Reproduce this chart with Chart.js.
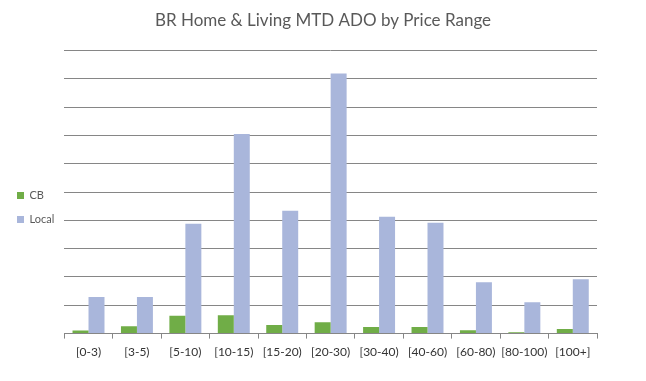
<!DOCTYPE html>
<html>
<head>
<meta charset="utf-8">
<script src="https://cdn.jsdelivr.net/npm/chart.js@4"></script>
<style>
  html, body { margin: 0; padding: 0; background: #fff; }
  #wrap { width: 646px; height: 381px; }
</style>
</head>
<body>
<div id="wrap"><canvas id="chart"></canvas></div>
<script>
const priceRanges = ['[0-3)', '[3-5)', '[5-10)', '[10-15)', '[15-20)', '[20-30)', '[30-40)', '[40-60)', '[60-80)', '[80-100)', '[100+]'];
const cbValues = [0.11, 0.26, 0.63, 0.65, 0.30, 0.40, 0.23, 0.23, 0.12, 0.05, 0.16];
const localValues = [1.29, 1.29, 3.88, 7.05, 4.34, 9.18, 4.13, 3.91, 1.81, 1.11, 1.92];

const FONT = 'Lato, "Open Sans", sans-serif';

// title centred on the whole canvas, legend nudged down like the original
const layoutTweak = {
  id: 'layoutTweak',
  afterLayout(chart) {
    const t = chart.titleBlock;
    if (t) {
      t.left = 0;
      t.right = chart.width;
      t.width = chart.width;
    }
    const lg = chart.legend;
    if (lg) {
      lg.top += 25;
      lg.bottom += 25;
    }
  },
};

new Chart(document.getElementById('chart'), {
  type: 'bar',
  data: {
    labels: priceRanges,
    datasets: [
      { label: 'CB', data: cbValues, backgroundColor: '#70ad47' },
      { label: 'Local', data: localValues, backgroundColor: '#a9b6db' },
    ],
  },
  plugins: [layoutTweak],
  options: {
    responsive: true,
    maintainAspectRatio: false,
    animation: false,
    layout: { padding: { left: 4, right: 49, top: 0, bottom: 16 } },
    datasets: {
      bar: { categoryPercentage: 0.66, barPercentage: 1.0 },
    },
    plugins: {
      title: {
        display: true,
        text: 'BR Home & Living MTD ADO by Price Range',
        color: '#595959',
        font: { family: FONT, size: 17, weight: 'normal' },
        padding: { top: 10, bottom: 20 },
      },
      legend: {
        position: 'left',
        labels: {
          boxWidth: 7,
          boxHeight: 7,
          padding: 13,
          color: '#595959',
          font: { family: FONT, size: 11 },
        },
      },
      tooltip: { enabled: false },
    },
    scales: {
      x: {
        grid: {
          drawOnChartArea: false,
          drawTicks: true,
          tickLength: 5,
          color: '#868686',
        },
        border: { color: '#868686' },
        ticks: {
          color: '#333333',
          font: { family: FONT, size: 12 },
          maxRotation: 0,
          autoSkip: false,
          padding: 6,
        },
      },
      y: {
        min: 0,
        max: 10,
        ticks: { display: false, stepSize: 1 },
        grid: { color: '#868686', drawTicks: false },
        border: { display: false },
      },
    },
  },
});
</script>
</body>
</html>
